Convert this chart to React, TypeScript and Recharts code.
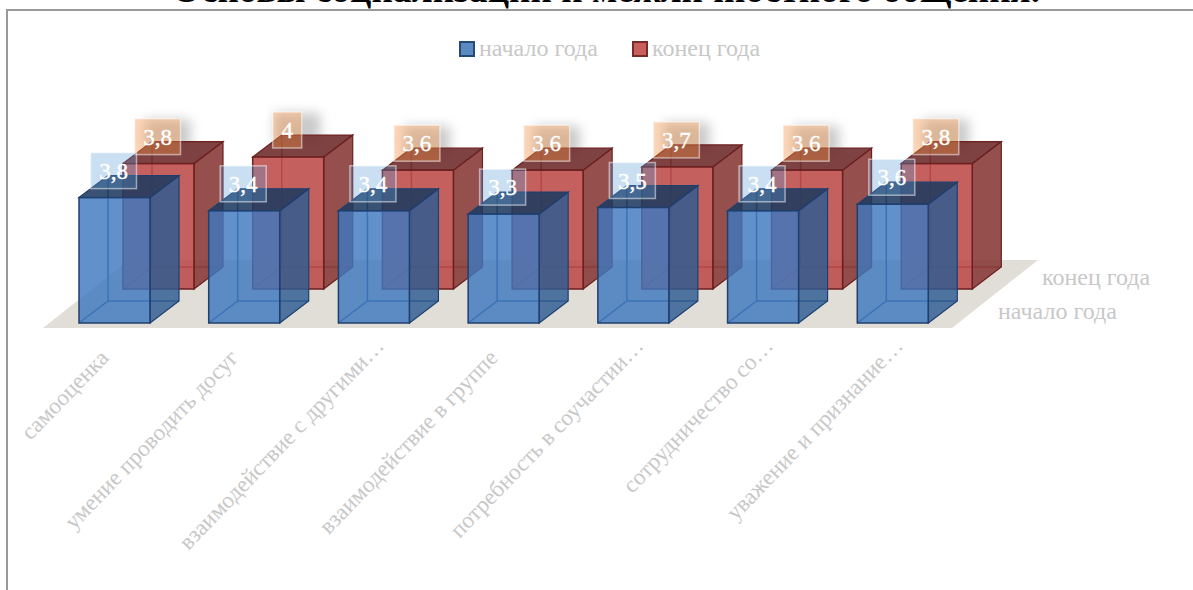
import React from 'react';
import { BarChart, Bar, XAxis, YAxis, Legend, LabelList, Customized } from 'recharts';

const categories = [
  'самооценка',
  'умение проводить досуг',
  'взаимодействие с другими…',
  'взаимодействие в группе',
  'потребность в соучастии…',
  'сотрудничество со…',
  'уважение и признание…',
];
const startOfYear = [3.8, 3.4, 3.4, 3.3, 3.5, 3.4, 3.6];
const endOfYear = [3.8, 4, 3.6, 3.6, 3.7, 3.6, 3.8];
const seriesNames = ['начало года', 'конец года'];

const chartData = categories.map((name, i) => ({
  name,
  start: startOfYear[i],
  end: endOfYear[i],
}));

const SERIF = '"Liberation Serif", "Times New Roman", serif';
const GREY = '#c8c8c8';

// box depth, and how far the back row sits from the front row
const DEPTH_X = 29;
const DEPTH_Y = 22;
const ROW_X = 44;
const ROW_Y = -34;

const blueBox = { front: '#3e78be', frontA: 0.82, side: '#2d5c92', sideA: 0.82, top: '#1f3a60', topA: 0.88, line: '#1f3f6e', inner: '#2b5b90' };
const redBox = { front: '#bb4a47', frontA: 0.87, side: '#8a3d3b', sideA: 0.9, top: '#702e2d', topA: 0.9, line: '#6b1f1f', inner: '#8e2f2d' };

const Box = ({ x, y, width, height, c, dx = 0, dy = 0, shadow = false }: any) => {
  const l = x + dx;
  const t = y + dy;
  const r = l + width;
  const b = t + height;
  return (
    <g>
      {shadow && (
        <rect x={l + width / 2 - 14} y={t - 44} width={46} height={30} fill="#666" opacity={0.35} filter="url(#labelShadow)" />
      )}
      {/* back edges show through the glass */}
      <path
        d={`M${l + DEPTH_X} ${t - DEPTH_Y}V${b - DEPTH_Y}M${l} ${b}L${l + DEPTH_X} ${b - DEPTH_Y}H${r + DEPTH_X}`}
        stroke={c.inner}
        strokeWidth={1.5}
        fill="none"
      />
      <polygon
        points={`${r},${t} ${r + DEPTH_X},${t - DEPTH_Y} ${r + DEPTH_X},${b - DEPTH_Y} ${r},${b}`}
        fill={c.side}
        fillOpacity={c.sideA}
        stroke={c.line}
        strokeWidth={1.2}
      />
      <polygon
        points={`${l},${t} ${l + DEPTH_X},${t - DEPTH_Y} ${r + DEPTH_X},${t - DEPTH_Y} ${r},${t}`}
        fill={c.top}
        fillOpacity={c.topA}
        stroke={c.line}
        strokeWidth={1.2}
      />
      <rect x={l} y={t} width={width} height={height} fill={c.front} fillOpacity={c.frontA} stroke={c.line} strokeWidth={1.5} />
    </g>
  );
};

const BlueShape = (props: any) => <Box {...props} c={blueBox} />;
const RedShape = (props: any) => <Box {...props} c={redBox} dx={ROW_X} dy={ROW_Y} shadow />;

const makeLabel = (fill: string, opacity: number, dx: number, dy: number) => (props: any) => {
  const { x, y, width, value } = props;
  const text = String(value).replace('.', ',');
  const w = text.length > 1 ? 46 : 29;
  const cx = x + width / 2 + dx - 1;
  const top = y + dy - 45;
  return (
    <g>
      <rect x={cx - w / 2} y={top} width={w} height={36} fill={fill} fillOpacity={opacity} stroke="#fff" strokeOpacity={0.5} strokeWidth={1.5} />
      <text x={cx} y={top + 26} textAnchor="middle" fill="#fff" stroke="#fff" strokeWidth={0.4} fontFamily={SERIF} fontSize={23}>
        {text}
      </text>
    </g>
  );
};

const CategoryTick = ({ x, y, payload }: any) => {
  // the cut labels sit a little further along the slope
  const cut = String(payload.value).endsWith('…');
  const tx = cut ? x + 11 : x - 5;
  const ty = cut ? y + 16 : y + 28;
  return (
    <text x={tx} y={ty} textAnchor="end" fill={GREY} fontFamily={SERIF} fontSize={23} transform={`rotate(-46 ${tx} ${ty})`}>
      {payload.value}
    </text>
  );
};

const Floor = () => (
  <g>
    <defs>
      <filter id="labelShadow" x="-50%" y="-50%" width="200%" height="200%">
        <feGaussianBlur stdDeviation="6" />
      </filter>
    </defs>
    <polygon points="43,328 952,328 1038,260 129,260" fill="#e0ded6" />
    <text x={1042} y={285} fill={GREY} fontFamily={SERIF} fontSize={24}>{seriesNames[1]}</text>
    <text x={998} y={319} fill={GREY} fontFamily={SERIF} fontSize={24}>{seriesNames[0]}</text>
  </g>
);

const LegendBox = () => (
  <div style={{ position: 'relative', height: 0, fontFamily: SERIF, fontSize: 24, color: GREY }}>
    {seriesNames.map((name, i) => (
      <React.Fragment key={name}>
        <span
          style={{
            position: 'absolute',
            left: i === 0 ? 459 : 632,
            top: 41,
            width: 12,
            height: 12,
            background: i === 0 ? '#5b8ac2' : '#c85f5c',
            border: `2px solid ${i === 0 ? '#27497a' : '#7a2a2a'}`,
          }}
        />
        <span style={{ position: 'absolute', left: i === 0 ? 479 : 652, top: 35, whiteSpace: 'nowrap' }}>{name}</span>
      </React.Fragment>
    ))}
  </div>
);

export default function App() {
  return (
    <div style={{ position: 'absolute', left: 0, top: 0, width: 1193, height: 590, overflow: 'hidden', background: '#fff' }}>
      <div
        style={{
          position: 'absolute',
          left: 172,
          top: -32,
          fontFamily: SERIF,
          fontWeight: 'bold',
          fontSize: 37.2,
          whiteSpace: 'nowrap',
          color: '#000',
        }}
      >
        Основы социализации и межличностного общения.
      </div>
      <div style={{ position: 'absolute', left: 6, top: 9, width: 1200, height: 600, border: '2px solid #999' }} />
      <BarChart
        width={1193}
        height={590}
        data={chartData}
        margin={{ top: 125, right: 235, bottom: 27, left: 50 }}
        barSize={71}
        barGap={-71}
        style={{ position: 'absolute', left: 0, top: 0 }}
      >
        <Customized component={Floor} />
        <XAxis dataKey="name" height={240} interval={0} tickLine={false} axisLine={false} tick={<CategoryTick />} />
        <YAxis hide domain={[0, 6]} />
        <Legend verticalAlign="middle" wrapperStyle={{ left: 0, top: 0, width: 1193, height: 0 }} content={<LegendBox />} />
        <Bar dataKey="end" name={seriesNames[1]} shape={<RedShape />} isAnimationActive={false}>
          <LabelList dataKey="end" content={makeLabel('#f79646', 0.38, ROW_X, ROW_Y)} />
        </Bar>
        <Bar dataKey="start" name={seriesNames[0]} shape={<BlueShape />} isAnimationActive={false}>
          <LabelList dataKey="start" content={makeLabel('#5b9bd5', 0.32, 0, 0)} />
        </Bar>
      </BarChart>
    </div>
  );
}
